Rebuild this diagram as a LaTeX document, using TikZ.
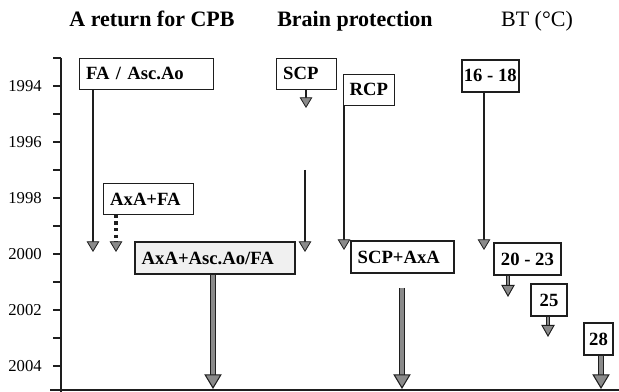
\documentclass[tikz,border=0pt]{standalone}
\usepackage{fontspec}
\setmainfont{Liberation Serif}
\usetikzlibrary{arrows.meta, positioning, calc}
\definecolor{InkDark}{HTML}{1E1E1E}
\definecolor{ArrowGray}{HTML}{8A8A8A}
\definecolor{Stipple}{HTML}{F0F0F0}

\begin{document}
\begin{tikzpicture}[x=0.75pt, y=-0.75pt,
  heading/.style={font=\bfseries\fontsize{16.5}{19}\selectfont, anchor=base},
  yearlabel/.style={font=\fontsize{12.5}{14}\selectfont, anchor=east, inner sep=0pt},
  stage/.style={draw=InkDark, line width=0.8pt, fill=white, anchor=north west,
    font=\bfseries\fontsize{14}{16}\selectfont, inner xsep=5pt, inner ysep=0pt,
    minimum height=23pt, align=left},
  stagebold/.style={stage, line width=1.6pt, minimum height=24pt},
  centred/.style={align=center, inner xsep=1pt},
  flow/.style={draw=InkDark, line width=1.6pt,
    -{Triangle[width=9.5pt, length=8pt, color=InkDark, fill=ArrowGray, line width=0.6pt]}},
  midflow/.style={draw=ArrowGray, line width=2.2pt,
    preaction={draw=InkDark, line width=3.2pt, shorten >=6pt, arrows=-},
    -{Triangle[width=10pt, length=9pt, color=InkDark, fill=ArrowGray, line width=0.7pt]}},
  bigflow/.style={draw=ArrowGray, line width=3pt,
    preaction={draw=InkDark, line width=4.2pt, shorten >=8pt, arrows=-},
    -{Triangle[width=13pt, length=11pt, color=InkDark, fill=ArrowGray, line width=0.8pt]}},
  dotflow/.style={draw=InkDark, line width=2.4pt, dash pattern=on 2.4pt off 2.6pt,
    -{Triangle[width=9.5pt, length=8pt, color=InkDark, fill=ArrowGray, line width=0.6pt, sep=0pt]}}
]
  % --- FRAME (pixel grid of the scan) ---
  \useasboundingbox (0,0) rectangle (619,392);
  \def\AxisX{61}
  \def\TickTop{58}
  \def\TickGap{28}

  % =====================================================================
  % 1. COLUMN HEADINGS
  % =====================================================================
  \node[heading] (hcpb) at (152,27) {A return for CPB};
  \node[heading] (hbrain) at (355,27) {Brain protection};
  \node[heading, font=\fontsize{16.5}{19}\selectfont] (hbt) at (537,27) {BT (°C)};

  % =====================================================================
  % 2. TIME AXIS
  % =====================================================================
  \draw[InkDark, line width=0.9pt] (\AxisX,\TickTop) -- (\AxisX,392);
  \draw[InkDark, line width=1.1pt] (50,390) -- (619,390);
  \foreach \k in {0,...,11}
    \draw[InkDark, line width=0.9pt] (53,\TickTop+\TickGap*\k) -- (\AxisX,\TickTop+\TickGap*\k);
  \foreach \yr [count=\i] in {1994,1996,1998,2000,2002,2004}
    \node[yearlabel] (y\yr) at (42,\TickTop+\TickGap*2*\i-\TickGap) {\yr};

  % =====================================================================
  % 3. STAGES (boxes)
  % =====================================================================
  \node[stage, text width=90.5pt] (fa) at (79,58) {FA / Asc.Ao};
  \node[stage, text width=57.5pt] (axafa) at (103,183) {AxA+FA};
  \node[stagebold, text width=110pt, fill=Stipple] (axaasc) at (134,241) {AxA+Asc.Ao/FA};
  \node[stage, text width=35pt] (scp) at (276,58) {SCP};
  \node[stage, centred, minimum width=38pt] (rcp) at (343,74) {RCP};
  \node[stagebold, text width=67pt] (scpaxa) at (350,240) {SCP+AxA};
  \node[stagebold, centred, minimum width=42.75pt, line width=1.2pt] (bt1) at (461,59) {16 - 18};
  \node[stagebold, centred, minimum width=50pt] (bt2) at (493,242) {20 - 23};
  \node[stagebold, centred, minimum width=27pt] (bt3) at (530,283) {25};
  \node[stagebold, centred, minimum width=21.75pt] (bt4) at (583,322) {28};

  % =====================================================================
  % 4. ARROWS (free ends as named coordinates)
  % =====================================================================
  \coordinate (faend) at (93,252);
  \coordinate (axafaend) at (116,252);
  \coordinate (axaascend) at (213,389);
  \coordinate (scpend) at (306,108);
  \coordinate (scpgo) at (305,170);
  \coordinate (scpstop) at (305,252);
  \coordinate (rcpend) at (344,250);
  \coordinate (scpaxago) at (402,288);
  \coordinate (scpaxaend) at (402,389);
  \coordinate (bt1end) at (484,250);
  \coordinate (bt2end) at (508,297);
  \coordinate (bt3end) at (548,337);
  \coordinate (bt4end) at (601,389);

  \draw[flow] (faend |- fa.south) -- (faend);
  \draw[dotflow] (axafaend |- axafa.south) -- (axafaend);
  \draw[bigflow] (axaascend |- axaasc.south) -- (axaascend);
  \draw[flow, line width=2.2pt] (scpend |- scp.south) -- (scpend);
  \draw[flow, line width=2pt] (scpgo) -- (scpstop);
  \draw[flow] (rcpend |- rcp.south) -- (rcpend);
  \draw[bigflow] (scpaxago) -- (scpaxaend);
  \draw[flow] (bt1end |- bt1.south) -- (bt1end);
  \draw[midflow] (bt2end |- bt2.south) -- (bt2end);
  \draw[midflow, line width=1.6pt] (bt3end |- bt3.south) -- (bt3end);
  \draw[bigflow] (bt4end |- bt4.south) -- (bt4end);
\end{tikzpicture}
\end{document}
